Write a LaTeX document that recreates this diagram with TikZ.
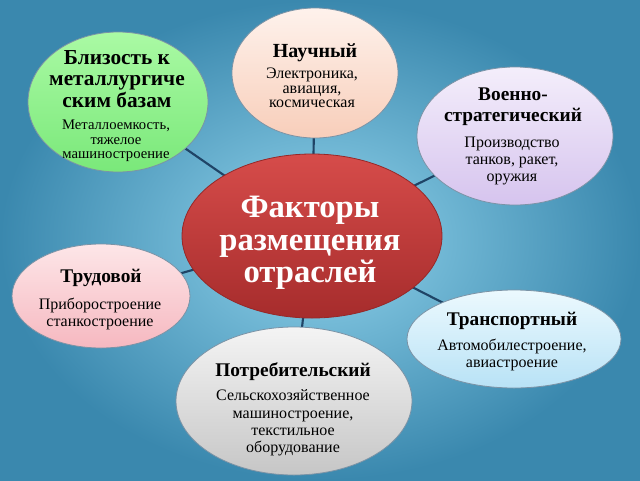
\documentclass[tikz,border=0pt]{standalone}
\usepackage{fontspec}
\setmainfont{Liberation Serif}
\usetikzlibrary{shapes.geometric,backgrounds}
\definecolor{bgin}{HTML}{92D4EC}
\definecolor{bgout}{HTML}{3A88AE}
\definecolor{linkc}{HTML}{1F4466}
\definecolor{edgec}{HTML}{7B93A6}
\begin{document}
\begin{tikzpicture}[x=0.75pt,y=-0.75pt,
  bub/.style 2 args={ellipse,draw=edgec,line width=0.6pt,inner sep=0pt,
    minimum width=#1*0.75pt,minimum height=#2*0.75pt},
  link/.style={draw=linkc,line width=1.6pt},
  ttl/.style={inner sep=0pt,align=center,font=\fontsize{14.5}{16}\selectfont\bfseries},
  sub/.style={inner sep=0pt,align=center,font=\fontsize{12}{13}\selectfont},
  ctr/.style={inner sep=0pt,align=center,text=white,font=\fontsize{24.5}{24.5}\selectfont\bfseries}]
\useasboundingbox (0,0) rectangle (640,480);
% nodes
\node[bub={260}{164},top color={rgb,255:red,214;green,76;blue,74},bottom color={rgb,255:red,166;green,44;blue,44},draw={rgb,255:red,150;green,40;blue,40}] (c) at (312,236) {};
\node[bub={166}{130},top color={rgb,255:red,254;green,242;blue,236},bottom color={rgb,255:red,248;green,206;blue,186}] (n1) at (315,73) {};
\node[bub={180}{140},top color={rgb,255:red,170;green,250;blue,164},bottom color={rgb,255:red,122;green,232;blue,122}] (n2) at (118,102) {};
\node[bub={196}{138},top color={rgb,255:red,244;green,238;blue,251},bottom color={rgb,255:red,214;green,196;blue,238}] (n3) at (515,136) {};
\node[bub={178}{104},top color={rgb,255:red,253;green,230;blue,232},bottom color={rgb,255:red,246;green,184;blue,192}] (n4) at (101,296) {};
\node[bub={214}{98},top color={rgb,255:red,236;green,249;blue,254},bottom color={rgb,255:red,184;green,226;blue,246}] (n5) at (514,339) {};
\node[bub={236}{148},top color={rgb,255:red,244;green,244;blue,244},bottom color={rgb,255:red,198;green,198;blue,198}] (n6) at (294,401) {};
% texts
\node[ctr] (ct) at (310,243) {Факторы\\размещения\\отраслей};
\node[ttl,font=\fontsize{15}{16}\selectfont\bfseries] (t1) at (315,53) {Научный};
\node[sub,font=\fontsize{12}{11}\selectfont] (s1) at (312,88) {Электроника,\\авиация,\\космическая};
\node[ttl,font=\fontsize{16}{16}\selectfont\bfseries] (t2) at (117,79) {Близость к\\металлургиче\\ским базам};
\node[sub,font=\fontsize{11}{10.8}\selectfont] (s2) at (116,141) {Металлоемкость,\\тяжелое\\машиностроение};
\node[ttl] (t3) at (513,107) {Военно-\\стратегический};
\node[sub] (s3) at (512,161) {Производство\\танков, ракет,\\оружия};
\node[ttl] (t4) at (101,278) {Трудовой};
\node[sub] (s4) at (100,314) {Приборостроение\\станкостроение};
\node[ttl] (t5) at (512,321) {Транспортный};
\node[sub] (s5) at (512,355) {Автомобилестроение,\\авиастроение};
\node[ttl] (t6) at (293,372) {Потребительский};
\node[sub] (s6) at (293,423) {Сельскохозяйственное\\машиностроение,\\текстильное\\оборудование};
% background and connectors
\begin{scope}[on background layer]
  \shade[inner color=bgin,outer color=bgout] (0,0) rectangle (640,480);
  \draw[link] (c.center) -- (n1.center);
  \draw[link] (c.center) -- (n2.center);
  \draw[link] (c.center) -- (n3.center);
  \draw[link] (c.center) -- (n4.center);
  \draw[link] (c.center) -- (n5.center);
  \draw[link] (c.center) -- (n6.center);
\end{scope}
\end{tikzpicture}
\end{document}
